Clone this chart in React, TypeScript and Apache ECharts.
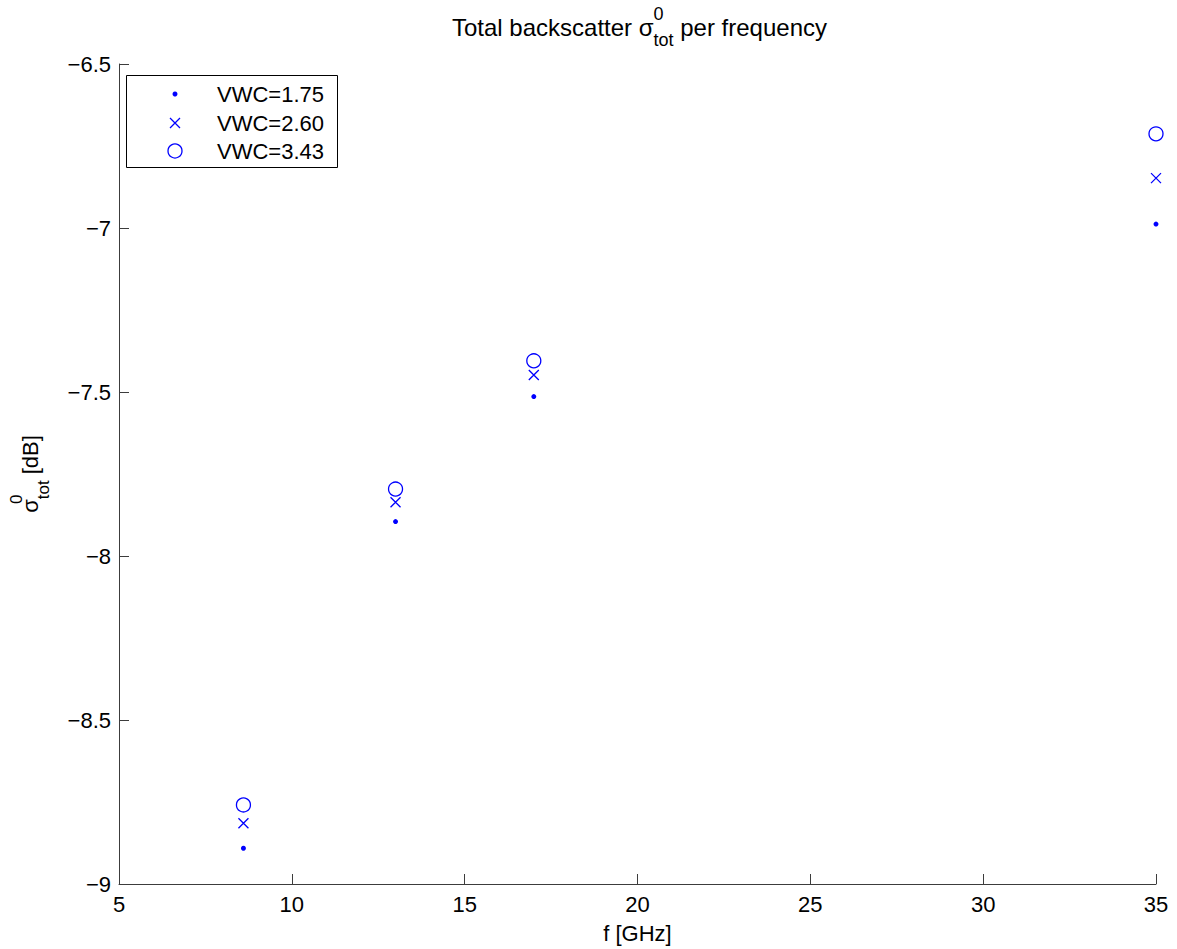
import React, { useEffect, useRef } from 'react';
import * as echarts from 'echarts';

const FONT = '"Liberation Sans", Arial, Helvetica, sans-serif';
const BLUE = '#0000ff';
const AXIS_COLOR = '#3c3c3c';

// Frequencies in GHz and total backscatter in dB for each volumetric water content
const frequencies = [8.6, 13, 17, 35];
const sigmaVwc175 = [-8.891, -7.895, -7.514, -6.988];
const sigmaVwc260 = [-8.815, -7.836, -7.448, -6.848];
const sigmaVwc343 = [-8.759, -7.796, -7.405, -6.713];
const seriesNames = ['VWC=1.75', 'VWC=2.60', 'VWC=3.43'];

const xTicks = { min: 5, max: 35, interval: 5 };
const yTicks = { min: -9, max: -6.5, interval: 0.5 };

const CROSS = 'path://M0,0L10,10M10,0L0,10';

const withMinus = (v: number) => String(v).replace('-', '\u2212');

// Rich styles giving a stacked superscript / subscript after the sigma
const makeScriptRich = (main: number, small: number, supH: number, subH: number) => ({
  m: { fontSize: main, lineHeight: 44, fontFamily: FONT, color: '#000', fontWeight: 'normal' },
  sup: {
    fontSize: small,
    lineHeight: supH,
    verticalAlign: 'top',
    width: 0,
    align: 'left',
    fontFamily: FONT,
    color: '#000',
    fontWeight: 'normal',
  },
  sub: {
    fontSize: small,
    lineHeight: subH,
    verticalAlign: 'bottom',
    fontFamily: FONT,
    color: '#000',
    fontWeight: 'normal',
  },
});

const titleRich = makeScriptRich(24, 18, 22, 22);
const yNameRich = makeScriptRich(22, 17, 20, 22);

const toPoints = (ys: number[]) => frequencies.map((f, i) => [f, ys[i]]);

// One legend block per entry so each icon keeps its own marker size;
// the block is placed by the drawn icon's left edge.
const legendEntry = (
  name: string,
  icon: string,
  top: number,
  size: number,
  stroke: number,
  itemStyle: Record<string, unknown>
) => ({
  data: [{ name, icon }],
  left: 175 - size / 2 - stroke / 2,
  top,
  orient: 'vertical',
  padding: 0,
  itemWidth: 74,
  itemHeight: size,
  selectedMode: false,
  symbolKeepAspect: true,
  itemStyle,
  textStyle: { fontSize: 22, color: '#000', fontFamily: FONT },
  z: 5,
});

export default function App() {
  const ref = useRef<HTMLDivElement>(null);

  useEffect(() => {
    if (!ref.current) return;
    const chart = echarts.init(ref.current, null, { renderer: 'svg' });

    chart.setOption({
      animation: false,
      backgroundColor: '#fff',
      textStyle: { fontFamily: FONT },
      title: {
        text: '{m|Total backscatter σ}{sup|0}{sub|tot}{m| per frequency}',
        left: 452,
        top: 5,
        padding: 0,
        textStyle: { fontWeight: 'normal', rich: titleRich },
      },
      grid: { left: 114, right: 21, top: 64, bottom: 65, containLabel: false },
      xAxis: {
        type: 'value',
        ...xTicks,
        name: 'f [GHz]',
        nameLocation: 'middle',
        nameGap: 38,
        nameTextStyle: { fontSize: 22, color: '#000', fontFamily: FONT },
        axisLine: { show: true, onZero: false, lineStyle: { color: AXIS_COLOR, width: 1 } },
        axisTick: { show: true, inside: true, length: 10, lineStyle: { color: AXIS_COLOR } },
        axisLabel: { fontSize: 22, color: '#000', margin: 9, fontFamily: FONT },
        splitLine: { show: false },
      },
      yAxis: {
        type: 'value',
        ...yTicks,
        name: '{m|σ}{sup|0}{sub|tot}{m| [dB]}',
        nameLocation: 'middle',
        nameGap: 67,
        nameRotate: 90,
        nameTextStyle: { rich: yNameRich },
        axisLine: { show: true, onZero: false, lineStyle: { color: AXIS_COLOR, width: 1 } },
        axisTick: { show: true, inside: true, length: 10, lineStyle: { color: AXIS_COLOR } },
        axisLabel: {
          fontSize: 22,
          color: '#000',
          margin: 8,
          fontFamily: FONT,
          formatter: (v: number) => withMinus(v),
        },
        splitLine: { show: false },
      },
      legend: [
        legendEntry(seriesNames[0], 'circle', 83, 5, 0, {
          color: BLUE,
          borderWidth: 0,
        }),
        legendEntry(seriesNames[1], CROSS, 112, 10, 1.3, {
          color: BLUE,
          borderColor: BLUE,
          borderWidth: 1.3,
        }),
        legendEntry(seriesNames[2], 'circle', 140, 14, 1.3, {
          color: 'rgba(255,255,255,0)',
          borderColor: BLUE,
          borderWidth: 1.3,
        }),
      ],
      graphic: [
        {
          type: 'rect',
          shape: { x: 126.5, y: 75.5, width: 211, height: 92 },
          style: { fill: '#fff', stroke: '#000', lineWidth: 1 },
          z: 1,
        },
      ],
      series: [
        {
          name: seriesNames[0],
          type: 'scatter',
          data: toPoints(sigmaVwc175),
          symbol: 'circle',
          symbolSize: 5,
          itemStyle: { color: BLUE, opacity: 1 },
          emphasis: { disabled: true },
        },
        {
          name: seriesNames[1],
          type: 'scatter',
          data: toPoints(sigmaVwc260),
          symbol: CROSS,
          symbolSize: 10,
          itemStyle: { color: BLUE, borderColor: BLUE, borderWidth: 1.3, opacity: 1 },
          emphasis: { disabled: true },
        },
        {
          name: seriesNames[2],
          type: 'scatter',
          data: toPoints(sigmaVwc343),
          symbol: 'circle',
          symbolSize: 14,
          itemStyle: {
            color: 'rgba(255,255,255,0)',
            borderColor: BLUE,
            borderWidth: 1.3,
            opacity: 1,
          },
          emphasis: { disabled: true },
        },
      ],
    });

    return () => chart.dispose();
  }, []);

  return (
    <div
      ref={ref}
      style={{ position: 'fixed', left: 0, top: 0, width: 1177, height: 949, background: '#fff' }}
    />
  );
}
